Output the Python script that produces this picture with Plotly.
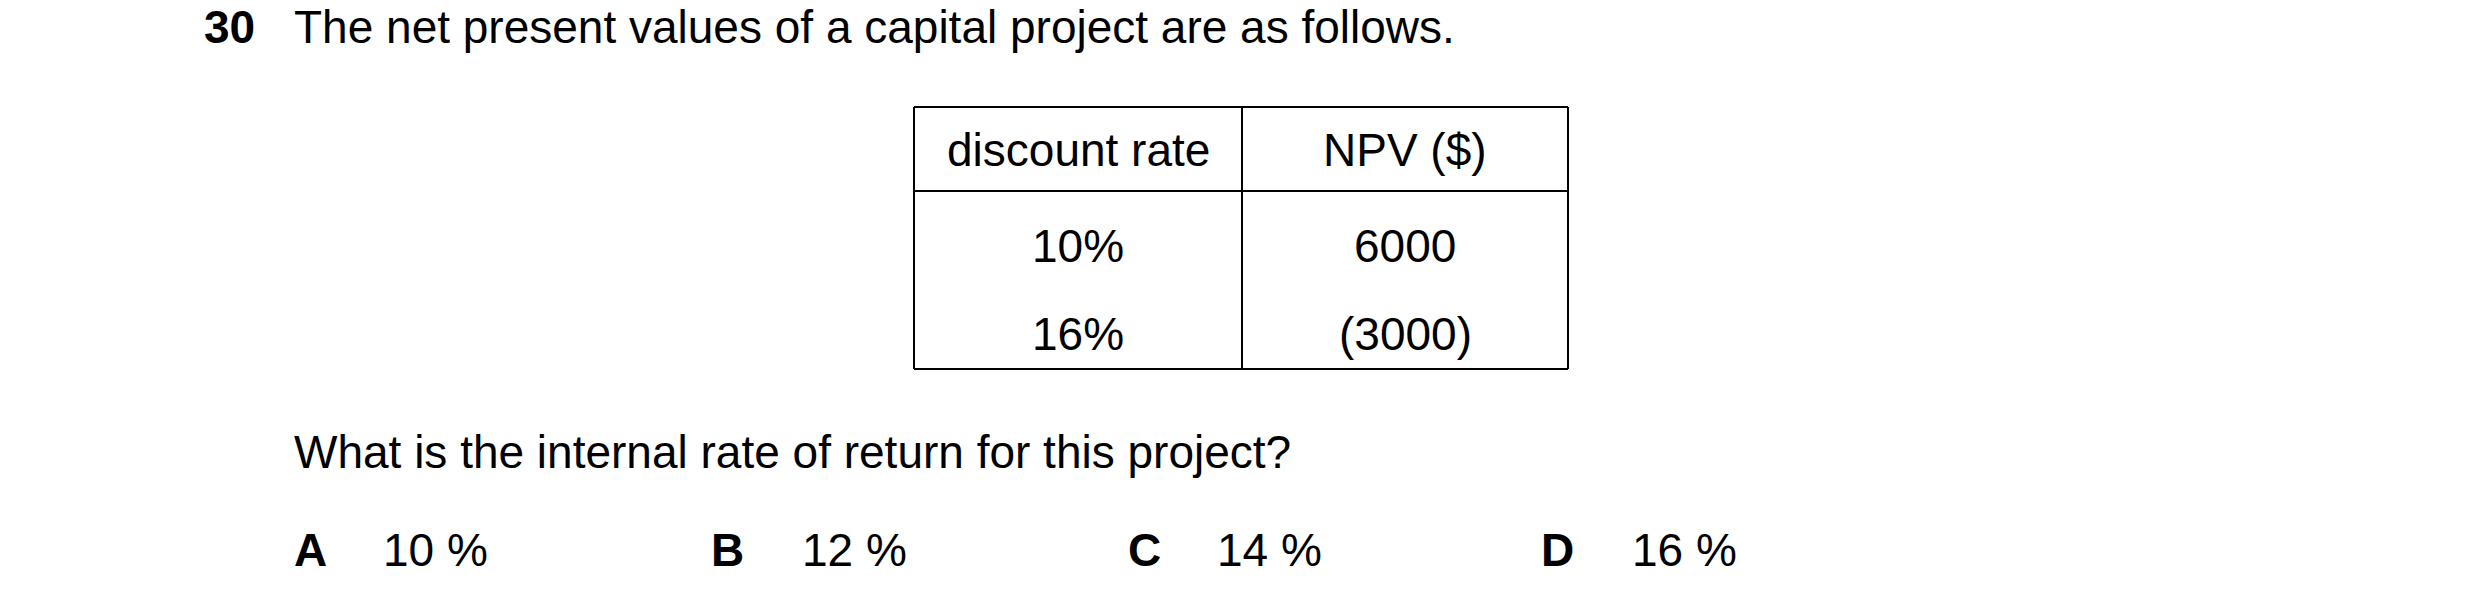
import plotly.graph_objects as go

W, H = 2480, 602
question_number = "30"
intro = "The net present values of a capital project are as follows."
headers = ["discount rate", "NPV ($)"]
rates = ["10%", "16%"]
npvs = ["6000", "(3000)"]
question = "What is the internal rate of return for this project?"
option_letters = ["A", "B", "C", "D"]
option_values = ["10 %", "12 %", "14 %", "16 %"]

FONT = "Liberation Sans, Arial, sans-serif"
FS = 46
DX, DY = -13, -8

def px(x): return (x + DX) / W
def py(y): return 1 - (y + DY) / H

fig = go.Figure()
ann = []
def text(x, y, t, anchor="left", bold=False):
    ann.append(dict(x=px(x), y=py(y), xref="paper", yref="paper", text=f"<b>{t}</b>" if bold else t,
                    showarrow=False, xanchor=anchor, yanchor="middle",
                    font=dict(family=FONT, size=FS, color="black")))

text(207, 27, question_number, bold=True)
text(297, 27, intro)

L, M, R = 919, 1247, 1573
T, HB, B = 107, 191, 369
shapes = []
def line(x0, y0, x1, y1):
    shapes.append(dict(type="line", xref="paper", yref="paper", x0=px(x0), y0=py(y0), x1=px(x1), y1=py(y1),
                       line=dict(color="black", width=2)))
line(L, T, R, T); line(L, HB, R, HB); line(L, B, R, B)
line(L, T, L, B); line(M, T, M, B); line(R, T, R, B)

cx = [(L + M) / 2, (M + R) / 2]
for i, h in enumerate(headers):
    text(cx[i], 150, h, anchor="center")
row_y = [246, 334]
for i in range(len(rates)):
    text(cx[0], row_y[i], rates[i], anchor="center")
    text(cx[1], row_y[i], npvs[i], anchor="center")

text(297, 452, question)
lx = [297, 714, 1131, 1544]
vx = [386, 805, 1220, 1635]
for i in range(4):
    text(lx[i], 550, option_letters[i], bold=True)
    text(vx[i], 550, option_values[i])

fig.update_layout(width=W, height=H, margin=dict(l=0, r=0, t=0, b=0),
                  paper_bgcolor="white", plot_bgcolor="white",
                  xaxis=dict(visible=False), yaxis=dict(visible=False),
                  annotations=ann, shapes=shapes)
fig.write_html("out.html")
